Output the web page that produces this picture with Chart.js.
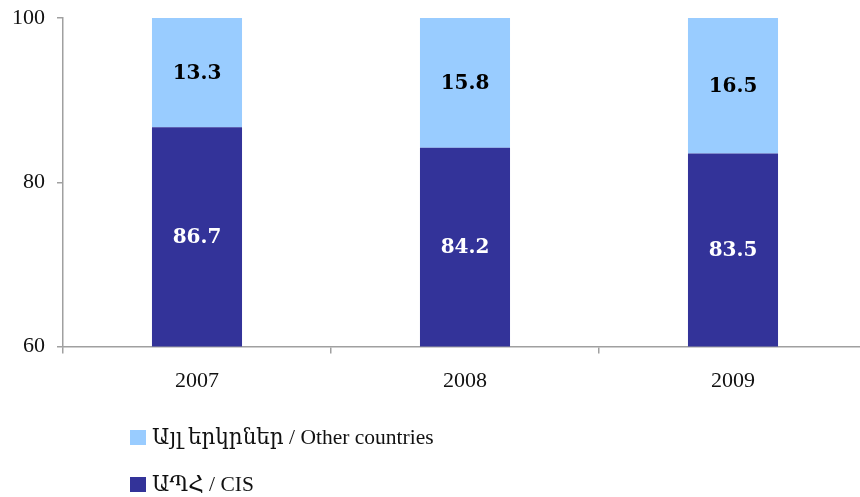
<!DOCTYPE html>
<html>
<head>
<meta charset="utf-8">
<script src="https://cdn.jsdelivr.net/npm/chart.js@4"></script>
<style>
html,body{margin:0;padding:0;background:#fff;overflow:hidden;}
#wrap{position:relative;width:860px;height:497px;overflow:hidden;}
#c{position:absolute;left:0;top:0;}
#legend{position:absolute;left:130px;top:425px;font-family:"Liberation Serif","DejaVu Serif",serif;font-size:21.5px;color:#111;}
.item{display:flex;align-items:center;height:24px;margin-bottom:23px;}
.sw{width:16px;height:15px;margin-right:6px;display:inline-block;}
</style>
</head>
<body>
<div id="wrap">
<canvas id="c" width="867" height="497" style="width:867px;height:497px;"></canvas>
<div id="legend"></div>
</div>
<script>
const categories = ["2007", "2008", "2009"];
const cisValues = [86.7, 84.2, 83.5];
const otherValues = [13.3, 15.8, 16.5];
const cisLabel = "ԱՊՀ / CIS";
const otherLabel = "Այլ երկրներ / Other countries";
const yTicks = [60, 80, 100];

const darkColor = "#333399";
const lightColor = "#99CCFF";

const labelPlugin = {
  id: "barLabels",
  afterDatasetsDraw(chart) {
    const ctx = chart.ctx;
    const area = chart.chartArea;
    ctx.save();
    ctx.font = "bold 20px 'DejaVu Serif', serif";
    ctx.textAlign = "center";
    ctx.textBaseline = "middle";
    chart.data.datasets.forEach((ds, i) => {
      const meta = chart.getDatasetMeta(i);
      meta.data.forEach((bar, j) => {
        const top = Math.max(Math.min(bar.y, bar.base), area.top);
        const bottom = Math.min(Math.max(bar.y, bar.base), area.bottom);
        ctx.fillStyle = ds.labelColor;
        ctx.fillText(ds.data[j].toFixed(1), bar.x, (top + bottom) / 2 + 1);
      });
    });
    ctx.restore();
  }
};

const chart = new Chart(document.getElementById("c"), {
  type: "bar",
  data: {
    labels: categories,
    datasets: [
      { label: cisLabel, data: cisValues, backgroundColor: darkColor, labelColor: "#ffffff",
        barPercentage: 0.336, categoryPercentage: 1 },
      { label: otherLabel, data: otherValues, backgroundColor: lightColor, labelColor: "#000000",
        barPercentage: 0.336, categoryPercentage: 1 }
    ]
  },
  options: {
    responsive: false,
    animation: false,
    devicePixelRatio: 1,
    layout: { padding: { top: 0, left: 0, right: 0, bottom: 89 } },
    plugins: { legend: { display: false }, tooltip: { enabled: false } },
    scales: {
      x: {
        stacked: true,
        grid: { display: true, drawOnChartArea: false, drawTicks: true, tickLength: 7, color: "#a0a0a0", lineWidth: 1.5, offset: true },
        border: { color: "#a0a0a0", width: 1.5 },
        ticks: { color: "#111", padding: 14, font: { family: "'Liberation Serif', serif", size: 22 } }
      },
      y: {
        stacked: true,
        min: yTicks[0], max: yTicks[yTicks.length - 1],
        afterBuildTicks: (axis) => { axis.ticks = yTicks.map(v => ({ value: v })); },
        afterFit: (axis) => { axis.paddingTop = 18; },
        grid: { display: true, drawOnChartArea: false, drawTicks: true, tickLength: 6, color: "#a0a0a0", lineWidth: 1.5 },
        border: { color: "#a0a0a0", width: 1.5 },
        ticks: { color: "#111", padding: 12, font: { family: "'Liberation Serif', serif", size: 22, lineHeight: 0.8 } }
      }
    }
  },
  plugins: [labelPlugin]
});

const legend = document.getElementById("legend");
[[otherLabel, lightColor], [cisLabel, darkColor]].forEach(([txt, col]) => {
  const d = document.createElement("div");
  d.className = "item";
  const s = document.createElement("span");
  s.className = "sw"; s.style.background = col;
  const t = document.createElement("span");
  t.textContent = txt;
  d.appendChild(s); d.appendChild(t);
  legend.appendChild(d);
});
</script>
</body>
</html>
